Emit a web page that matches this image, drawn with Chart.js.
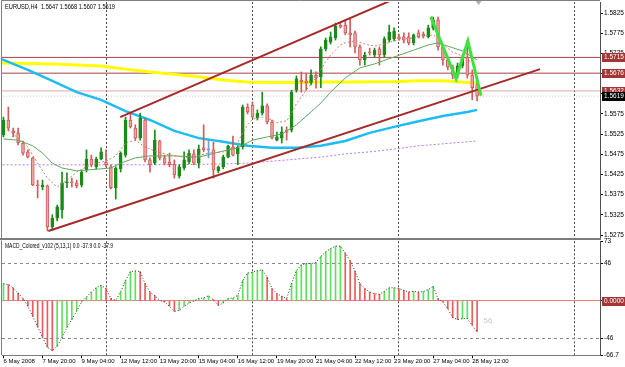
<!DOCTYPE html>
<html>
<head>
<meta charset="utf-8">
<script src="https://cdn.jsdelivr.net/npm/chart.js@4.4.1/dist/chart.umd.min.js"></script>
<style>
  html, body { margin: 0; padding: 0; background: #fff; }
  #wrap { position: relative; width: 625px; height: 367px; overflow: hidden; background: #fff; }
  #priceCanvas { position: absolute; left: 0; top: 0; }
  #macdCanvas { position: absolute; left: 0; top: 236px; }
  #split { position: absolute; left: 0; top: 238px; width: 601px; height: 2px; background: #7c7c7c; }
</style>
</head>
<body>
<div id="wrap">
  <canvas id="priceCanvas" width="625" height="238"></canvas>
  <div id="split"></div>
  <canvas id="macdCanvas" width="625" height="131"></canvas>
</div>
<script>
// ---- data ----
const symbol = 'EURUSD,H4';
const timeTickBars = [0, 8, 16, 24, 32, 40, 48, 56, 64, 72, 80, 88, 96];
const timeTickLabels = ['6 May 2008', '7 May 20:00', '9 May 04:00', '12 May 12:00', '13 May 20:00', '15 May 04:00',
  '16 May 12:00', '19 May 20:00', '21 May 04:00', '22 May 12:00', '23 May 20:00', '27 May 04:00', '28 May 12:00'];
const separatorBars = [21, 51, 81, 117];
const priceTicks = [1.5275, 1.5325, 1.5375, 1.5425, 1.5475, 1.5525, 1.5575, 1.5625, 1.5675, 1.5725, 1.5775, 1.5825];

const open = [1.5523, 1.5560, 1.5533, 1.5528, 1.5503, 1.5481, 1.5466, 1.5399, 1.5394, 1.5397,
  1.5295, 1.5317, 1.5337, 1.5404, 1.5406, 1.5404, 1.5399, 1.5436, 1.5463, 1.5444,
  1.5463, 1.5456, 1.5444, 1.5392, 1.5439, 1.5473, 1.5560, 1.5540, 1.5515, 1.5560,
  1.5461, 1.5453, 1.5508, 1.5466, 1.5456, 1.5451, 1.5421, 1.5441, 1.5456, 1.5476,
  1.5453, 1.5491, 1.5486, 1.5486, 1.5434, 1.5444, 1.5468, 1.5493, 1.5476, 1.5493,
  1.5592, 1.5597, 1.5565, 1.5577, 1.5595, 1.5555, 1.5510, 1.5515, 1.5535, 1.5535,
  1.5634, 1.5659, 1.5657, 1.5652, 1.5671, 1.5667, 1.5736, 1.5753, 1.5763, 1.5795,
  1.5795, 1.5776, 1.5776, 1.5741, 1.5709, 1.5728, 1.5721, 1.5736, 1.5721, 1.5758,
  1.5761, 1.5766, 1.5766, 1.5766, 1.5751, 1.5776, 1.5773, 1.5766, 1.5788, 1.5808,
  1.5741, 1.5709, 1.5691, 1.5671, 1.5694, 1.5716, 1.5671, 1.5647];
const high = [1.5567, 1.5592, 1.5540, 1.5540, 1.5508, 1.5486, 1.5468, 1.5411, 1.5411, 1.5399,
  1.5325, 1.5349, 1.5431, 1.5429, 1.5416, 1.5411, 1.5436, 1.5486, 1.5473, 1.5468,
  1.5491, 1.5486, 1.5449, 1.5444, 1.5481, 1.5567, 1.5577, 1.5548, 1.5577, 1.5565,
  1.5466, 1.5535, 1.5510, 1.5473, 1.5478, 1.5461, 1.5449, 1.5481, 1.5486, 1.5486,
  1.5498, 1.5548, 1.5510, 1.5505, 1.5446, 1.5473, 1.5498, 1.5520, 1.5496, 1.5597,
  1.5600, 1.5605, 1.5585, 1.5629, 1.5600, 1.5560, 1.5530, 1.5543, 1.5543, 1.5634,
  1.5669, 1.5679, 1.5676, 1.5684, 1.5679, 1.5741, 1.5763, 1.5778, 1.5800, 1.5800,
  1.5808, 1.5813, 1.5780, 1.5746, 1.5728, 1.5738, 1.5738, 1.5741, 1.5766, 1.5795,
  1.5788, 1.5773, 1.5776, 1.5776, 1.5773, 1.5783, 1.5778, 1.5795, 1.5815, 1.5815,
  1.5746, 1.5716, 1.5696, 1.5701, 1.5721, 1.5756, 1.5684, 1.5668];
const low = [1.5518, 1.5533, 1.5518, 1.5498, 1.5473, 1.5466, 1.5397, 1.5367, 1.5387, 1.5285,
  1.5287, 1.5310, 1.5317, 1.5392, 1.5394, 1.5392, 1.5394, 1.5431, 1.5444, 1.5439,
  1.5461, 1.5444, 1.5389, 1.5364, 1.5431, 1.5468, 1.5540, 1.5510, 1.5510, 1.5456,
  1.5431, 1.5449, 1.5461, 1.5449, 1.5444, 1.5416, 1.5416, 1.5436, 1.5451, 1.5449,
  1.5441, 1.5481, 1.5466, 1.5416, 1.5429, 1.5439, 1.5466, 1.5471, 1.5449, 1.5488,
  1.5575, 1.5565, 1.5560, 1.5572, 1.5550, 1.5513, 1.5508, 1.5503, 1.5510, 1.5530,
  1.5629, 1.5629, 1.5634, 1.5647, 1.5639, 1.5640, 1.5731, 1.5748, 1.5758, 1.5788,
  1.5771, 1.5741, 1.5726, 1.5696, 1.5696, 1.5721, 1.5716, 1.5696, 1.5716, 1.5753,
  1.5756, 1.5758, 1.5751, 1.5746, 1.5746, 1.5763, 1.5763, 1.5763, 1.5783, 1.5733,
  1.5696, 1.5684, 1.5662, 1.5664, 1.5689, 1.5664, 1.5610, 1.5607];
const close = [1.5560, 1.5540, 1.5528, 1.5503, 1.5478, 1.5468, 1.5399, 1.5397, 1.5399, 1.5295,
  1.5317, 1.5345, 1.5404, 1.5406, 1.5404, 1.5397, 1.5431, 1.5463, 1.5449, 1.5463,
  1.5481, 1.5449, 1.5392, 1.5441, 1.5478, 1.5560, 1.5543, 1.5515, 1.5565, 1.5461,
  1.5449, 1.5510, 1.5466, 1.5453, 1.5449, 1.5424, 1.5444, 1.5461, 1.5478, 1.5453,
  1.5488, 1.5486, 1.5486, 1.5436, 1.5444, 1.5468, 1.5496, 1.5473, 1.5493, 1.5592,
  1.5580, 1.5567, 1.5577, 1.5595, 1.5555, 1.5515, 1.5518, 1.5530, 1.5530, 1.5629,
  1.5662, 1.5654, 1.5652, 1.5671, 1.5664, 1.5736, 1.5758, 1.5766, 1.5793, 1.5790,
  1.5776, 1.5771, 1.5741, 1.5709, 1.5721, 1.5726, 1.5733, 1.5721, 1.5761, 1.5778,
  1.5780, 1.5761, 1.5758, 1.5751, 1.5771, 1.5766, 1.5768, 1.5788, 1.5808, 1.5741,
  1.5709, 1.5691, 1.5671, 1.5694, 1.5716, 1.5671, 1.5640, 1.5619];

// moving averages, sampled as [bar, price]
const maYellow = [[-1, 1.5701], [5, 1.5700], [10, 1.5699], [15, 1.5696], [20, 1.5694], [25, 1.5686], [30, 1.5679],
  [35, 1.5673], [40, 1.5667], [45, 1.5659], [50, 1.5654], [55, 1.5653], [60, 1.5653], [65, 1.5654], [70, 1.5654],
  [75, 1.5655], [80, 1.5655], [85, 1.5657], [90, 1.5657], [95, 1.5653], [97, 1.5652]];
const maCyan = [[-1, 1.5711], [0, 1.5709], [5, 1.5684], [10, 1.5657], [15, 1.5629], [20, 1.5610], [25, 1.5582],
  [30, 1.5560], [35, 1.5533], [40, 1.5515], [45, 1.5506], [50, 1.5496], [55, 1.5491], [60, 1.5491], [65, 1.5496],
  [70, 1.5508], [75, 1.5528], [80, 1.5543], [85, 1.5557], [90, 1.5570], [95, 1.5580], [97, 1.5585]];
const maPurple = [[-1, 1.5449], [10, 1.5449], [20, 1.5449], [30, 1.5449], [40, 1.5450], [45, 1.5451], [50, 1.5453],
  [55, 1.5458], [60, 1.5463], [65, 1.5468], [70, 1.5476], [75, 1.5481], [80, 1.5488], [85, 1.5496], [90, 1.5501],
  [95, 1.5506], [97, 1.5508]];
const maGreen = [[0, 1.5513], [3, 1.5510], [6, 1.5496], [8, 1.5478], [10, 1.5453], [12, 1.5441], [15, 1.5434],
  [20, 1.5439], [22, 1.5441], [24, 1.5453], [27, 1.5466], [30, 1.5471], [35, 1.5471], [40, 1.5468], [45, 1.5483],
  [48, 1.5491], [51, 1.5510], [54, 1.5518], [57, 1.5525], [60, 1.5548], [63, 1.5580], [65, 1.5602], [67, 1.5629],
  [70, 1.5664], [73, 1.5689], [76, 1.5699], [80, 1.5716], [84, 1.5733], [87, 1.5746], [89, 1.5751], [91, 1.5743],
  [94, 1.5731], [97, 1.5709]];
const maDotted = [[1, 1.5535], [3, 1.5515], [5, 1.5493], [7, 1.5453], [9, 1.5416], [11, 1.5394], [13, 1.5411],
  [15, 1.5431], [17, 1.5444], [19, 1.5453], [21, 1.5458], [23, 1.5471], [25, 1.5503], [27, 1.5510], [29, 1.5493],
  [31, 1.5483], [34, 1.5473], [38, 1.5466], [42, 1.5478], [45, 1.5481], [47, 1.5491], [48, 1.5506], [49, 1.5528],
  [50, 1.5548], [51, 1.5562], [53, 1.5567], [55, 1.5560], [56, 1.5553], [58, 1.5558], [59, 1.5577], [60, 1.5600],
  [61, 1.5617], [62, 1.5634], [63, 1.5649], [64, 1.5664], [65, 1.5684], [66, 1.5704], [67, 1.5721], [68, 1.5733],
  [69, 1.5746], [70, 1.5751], [72, 1.5756], [74, 1.5748], [76, 1.5743], [78, 1.5748], [80, 1.5756], [82, 1.5761],
  [84, 1.5763], [86, 1.5766], [88, 1.5771], [89, 1.5763], [90, 1.5748], [92, 1.5728], [94, 1.5719], [96, 1.5701],
  [97, 1.5689]];

// drawn objects
const channelLower = [[9.2, 1.5285], [109.9, 1.5686]];
const channelUpper = [[23.9, 1.5567], [80.5, 1.5862]];
const zigzag = [[87.5, 1.5816], [92.7, 1.5662], [95.1, 1.5756], [97.8, 1.5620]];
const levelDark = [1.5715, 1.5676];
const levelLight = [1.5632];

const macdVals = [21, 20, 16, 9.6, 2.7, -6.7, -19, -32, -45, -57,
  -61, -56, -45, -33, -23, -12.5, -1.5, 4.7, 10.8, 16,
  19, 15, 2.7, 0.6, 10.8, 25, 36, 36.6, 36, 21,
  10.8, 6.3, 0.6, -1.5, -6.7, -13, -11.7, -6.7, -2.7, 0,
  3, 3.5, 6, 1.4, -5.5, -2.7, 2.7, 3.5, 6.7, 25,
  34, 35, 37, 38, 29, 15, 8.8, 5.5, 2.7, 21,
  37, 44, 45.6, 45.6, 47, 54.6, 60, 64, 67, 67,
  58.7, 49, 36.6, 21, 15, 10.8, 8.8, 8, 11.6, 16,
  16, 15, 12.9, 10.8, 11.6, 10.8, 11.2, 13.7, 17.8, 2.7,
  -1.5, -9.6, -20.6, -23, -21.8, -21.8, -30, -37.9];
const macdTicks = [73, 46, 0, -46, -66.7];
const macdNote = { bar: 98.3, value: -24, text: '56' };

// ---- view ----
const X_MIN = -0.3, X_MAX = 122.17;
const FONT = 'Liberation Sans, Arial, sans-serif';
const BULL = '#1b8a1b', BEAR_FILL = '#f3a3a3', BEAR_EDGE = '#d25a5a', DOJI = '#6a9ce8';
const last = close.length - 1;

const bars = open.map((_, i) => i);
const pts = arr => arr.map(([x, y]) => ({ x, y }));
const hline = v => [{ x: X_MIN - 1, y: v }, { x: X_MAX + 1, y: v }];
const lineDs = (data, color, width, dash, order) => ({
  type: 'line', data, borderColor: color, borderWidth: width, borderDash: dash || [],
  pointRadius: 0, tension: 0, fill: false, order
});

const candleDir = bars.map(i => close[i] > open[i] ? 1 : close[i] < open[i] ? -1 : 0);
const wickColor = candleDir.map(d => d > 0 ? BULL : d < 0 ? BEAR_EDGE : DOJI);
const bodyFill = candleDir.map(d => d > 0 ? BULL : d < 0 ? BEAR_FILL : DOJI);
const bodyEdge = candleDir.map(d => d > 0 ? BULL : d < 0 ? BEAR_EDGE : DOJI);

const priceDecor = {
  id: 'priceDecor',
  afterDraw(chart) {
    const { ctx, chartArea: a, scales: { x, y } } = chart;
    ctx.save();
    ctx.strokeStyle = '#808080';
    ctx.lineWidth = 1;
    ctx.beginPath();
    ctx.moveTo(a.left - 0.5, a.bottom);
    ctx.lineTo(a.left - 0.5, a.top - 1.5);
    ctx.lineTo(a.right, a.top - 1.5);
    ctx.stroke();

    // chart shift marker
    const sx = x.getPixelForValue(last + 0.3);
    ctx.fillStyle = '#b0b0b0';
    ctx.beginPath();
    ctx.moveTo(sx - 3, a.top - 1);
    ctx.lineTo(sx + 3, a.top - 1);
    ctx.lineTo(sx, a.top + 3);
    ctx.closePath();
    ctx.fill();

    ctx.font = '6.5px ' + FONT;
    ctx.textBaseline = 'middle';
    ctx.textAlign = 'left';
    ctx.fillStyle = '#000';
    const head = symbol + '  ' + [open[last], high[last], low[last], close[last]].map(v => v.toFixed(4)).join(' ');
    ctx.fillText(head, a.left + 3, a.top + 5, 110);

    const boxes = levelDark.map(v => [v, '#a43535'])
      .concat(levelLight.map(v => [v, '#a43535']))
      .concat([[close[last], '#000']]);
    boxes.forEach(([v, bg]) => {
      const py = Math.round(y.getPixelForValue(v));
      ctx.fillStyle = bg;
      ctx.fillRect(a.right + 2, py - 4, chart.width - a.right - 2, 9);
      ctx.fillStyle = '#fff';
      ctx.fillText(v.toFixed(4), a.right + 4, py + 0.5);
    });
    ctx.restore();
  }
};

new Chart(document.getElementById('priceCanvas'), {
  type: 'bar',
  data: {
    datasets: [
      lineDs(pts(zigzag), '#3ee23e', 3, [], 0),
      lineDs(pts(channelUpper), '#a52a2a', 2, [], 1),
      lineDs(pts(channelLower), '#a52a2a', 2, [], 1),
      lineDs(pts(maDotted), '#c8826e', 1, [2, 2], 2),
      lineDs(pts(maGreen), '#5aaa5a', 1, [], 3),
      {
        type: 'bar', order: 4, grouped: false, barThickness: 3, minBarLength: 1,
        data: bars.map(i => ({ x: i, y: [open[i], close[i]] })),
        backgroundColor: bodyFill, borderColor: bodyEdge, borderWidth: 1, borderSkipped: false
      },
      {
        type: 'bar', order: 5, grouped: false, barThickness: 1,
        data: bars.map(i => ({ x: i, y: [low[i], high[i]] })),
        backgroundColor: wickColor, borderWidth: 0
      },
      lineDs(pts(maPurple), '#b478f0', 1, [2, 2], 6),
      lineDs(pts(maCyan), '#1ebcf5', 2.5, [], 7),
      lineDs(pts(maYellow), '#ffff00', 3, [], 8),
      ...levelDark.map(v => lineDs(hline(v), '#a84444', 1, [], 9)),
      ...levelLight.map(v => lineDs(hline(v), '#e8a8a8', 1, [], 9)),
      lineDs(hline(close[last]), '#c8c8c8', 1, [1, 2], 9)
    ]
  },
  options: {
    responsive: false,
    animation: false,
    events: [],
    layout: { padding: { left: 2, top: 2, right: 0, bottom: 0 } },
    plugins: { legend: { display: false }, tooltip: { enabled: false } },
    scales: {
      x: {
        type: 'linear', min: X_MIN, max: X_MAX, offset: false,
        afterBuildTicks: s => { s.ticks = separatorBars.map(v => ({ value: v })); },
        afterFit: s => { s.height = 0; s.paddingLeft = 0; s.paddingRight = 0; },
        ticks: { display: false },
        grid: { color: '#4a4a4a', drawTicks: false, offset: false },
        border: { display: false, dash: [2, 2] }
      },
      y: {
        position: 'right', min: 1.52676, max: 1.58523,
        afterBuildTicks: s => { s.ticks = priceTicks.map(v => ({ value: v })); },
        afterFit: s => { s.width = 25; s.paddingTop = 0; s.paddingBottom = 0; },
        ticks: { color: '#000', font: { family: FONT, size: 6.5 }, padding: 1, callback: v => v.toFixed(4) },
        grid: { drawOnChartArea: false, tickLength: 3, tickColor: '#000' },
        border: { display: true, color: '#505050' }
      }
    }
  },
  plugins: [priceDecor]
});

// ---- MACD window ----
const macdColor = macdVals.map((v, i) => (i === 0 || v >= macdVals[i - 1]) ? '#5ee05e' : '#ee5a5a');

const macdDecor = {
  id: 'macdDecor',
  afterDraw(chart) {
    const { ctx, chartArea: a, scales: { x, y } } = chart;
    ctx.save();
    ctx.strokeStyle = '#808080';
    ctx.lineWidth = 1;
    ctx.beginPath();
    ctx.moveTo(a.left - 0.5, a.top - 1);
    ctx.lineTo(a.left - 0.5, a.bottom);
    ctx.stroke();

    ctx.font = '6.5px ' + FONT;
    ctx.textBaseline = 'middle';
    ctx.textAlign = 'left';
    ctx.fillStyle = '#000';
    const lv = macdVals[last].toFixed(1);
    ctx.fillText('MACD_Colored_v102 (5,13,1) 0.0 ' + lv + ' 0.0 ' + lv, a.left + 3, a.top + 5, 108);

    ctx.fillStyle = '#c8c8c8';
    ctx.font = '8px ' + FONT;
    ctx.fillText(macdNote.text, x.getPixelForValue(macdNote.bar), y.getPixelForValue(macdNote.value));

    const py = Math.round(y.getPixelForValue(0));
    ctx.font = '6.5px ' + FONT;
    ctx.fillStyle = '#a43535';
    ctx.fillRect(a.right + 2, py - 4, chart.width - a.right - 2, 9);
    ctx.fillStyle = '#fff';
    ctx.fillText('0.0000', a.right + 4, py + 0.5);
    ctx.restore();
  }
};

new Chart(document.getElementById('macdCanvas'), {
  type: 'bar',
  data: {
    datasets: [
      lineDs(bars.map(i => ({ x: i, y: macdVals[i] })), '#333', 1, [1, 2], 0),
      {
        type: 'bar', order: 1, grouped: false, barThickness: 1,
        data: bars.map(i => ({ x: i, y: macdVals[i] })),
        backgroundColor: macdColor, borderWidth: 0
      }
    ]
  },
  options: {
    responsive: false,
    animation: false,
    events: [],
    layout: { padding: { left: 2, top: 5.3, right: 0, bottom: 0 } },
    plugins: { legend: { display: false }, tooltip: { enabled: false } },
    scales: {
      x: {
        type: 'linear', min: X_MIN, max: X_MAX, offset: false,
        afterBuildTicks: s => { s.ticks = timeTickBars.concat(separatorBars).sort((p, q) => p - q).map(v => ({ value: v })); },
        afterFit: s => { s.height = 11.8; s.paddingLeft = 0; s.paddingRight = 0; },
        ticks: {
          autoSkip: false, maxRotation: 0, minRotation: 0, align: 'start', padding: 0,
          color: '#000', font: { family: FONT, size: 6 },
          callback: v => { const k = timeTickBars.indexOf(v); return k >= 0 ? timeTickLabels[k] : ''; }
        },
        grid: {
          tickLength: 3, offset: false,
          color: c => (c.tick && separatorBars.includes(c.tick.value)) ? '#4a4a4a' : 'rgba(0,0,0,0)',
          tickColor: c => (c.tick && timeTickBars.includes(c.tick.value)) ? '#000' : 'rgba(0,0,0,0)'
        },
        border: { display: true, color: '#7c7c7c', dash: [2, 2] }
      },
      y: {
        position: 'right', min: -66.7, max: 73,
        afterBuildTicks: s => { s.ticks = macdTicks.map(v => ({ value: v })); },
        afterFit: s => { s.width = 25; s.paddingTop = 0; s.paddingBottom = 0; },
        ticks: { color: '#000', font: { family: FONT, size: 6.5 }, padding: 1, callback: v => v === 0 ? '' : String(v) },
        grid: {
          tickLength: 3, tickColor: '#000',
          color: c => !c.tick ? 'rgba(0,0,0,0)' : c.tick.value === 0 ? '#e88080' : Math.abs(c.tick.value) === 46 ? '#8a8a8a' : 'rgba(0,0,0,0)'
        },
        border: { display: true, color: '#505050', dash: c => (c.tick && c.tick.value !== 0) ? [3, 3] : [] }
      }
    }
  },
  plugins: [macdDecor]
});
</script>
</body>
</html>
